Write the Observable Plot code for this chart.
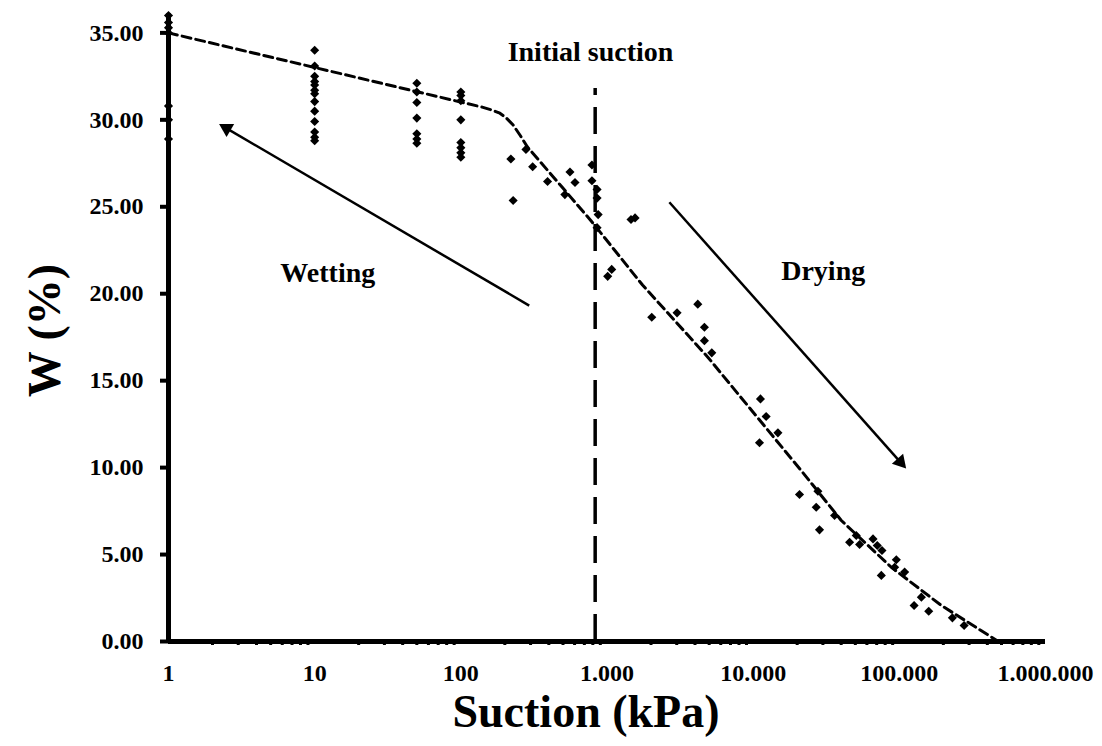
<!DOCTYPE html>
<html><head><meta charset="utf-8">
<script src="https://cdn.jsdelivr.net/npm/d3@7"></script>
<script src="https://cdn.jsdelivr.net/npm/@observablehq/plot@0.6"></script>
<style>body{margin:0;background:#fff;}</style>
</head><body><div id="chart"></div>
<script>
// Measured points: suction (kPa) and water content W (%)
const suctionAt1 = [1, 1, 1, 1, 1, 1, 1];
const wAt1 = [36.0, 35.6, 35.3, 35.0, 30.8, 30.0, 28.9];
const suctionAt10 = [10, 10, 10, 10, 10, 10, 10, 10, 10, 10, 10, 10, 10];
const wAt10 = [34.0, 33.1, 32.5, 32.2, 32.0, 31.7, 31.5, 31.05, 30.5, 29.9, 29.3, 29.0, 28.8];
const suctionAt50 = [50, 50, 50, 50, 50, 50, 50];
const wAt50 = [32.1, 31.6, 31.0, 30.1, 29.2, 28.9, 28.65];
const suctionAt100 = [100, 100, 100, 100, 100, 100, 100, 100];
const wAt100 = [31.6, 31.4, 31.1, 30.0, 28.7, 28.4, 28.1, 27.85];
const suctionScatter = [220, 279, 310, 392, 515, 558, 604, 228,
  789, 789, 855, 855, 870, 855, 1460, 1556, 1011, 1077,
  2024, 3015, 4180, 4640, 4640, 5210, 11220, 12270, 14770, 11050,
  20750, 27730, 27000, 36060, 28440, 50720, 45680, 53470, 66070, 70630, 76080,
  95370, 92900, 108700, 75300, 141500, 126200, 158900, 230700, 277500];
const wScatter = [27.75, 28.3, 27.3, 26.45, 25.7, 27.0, 26.4, 25.36,
  27.4, 26.5, 26.0, 25.5, 24.55, 23.8, 24.27, 24.36, 21.0, 21.4,
  18.65, 18.9, 19.4, 18.07, 17.3, 16.6, 13.95, 12.94, 12.0, 11.43,
  8.45, 8.64, 7.72, 7.25, 6.42, 6.1, 5.71, 5.58, 5.9, 5.52, 5.23,
  4.7, 4.27, 3.99, 3.8, 2.55, 2.07, 1.74, 1.36, 0.92];

// Fitted curve (dashed)
const fitSuction = [1, 140, 165, 185, 205, 228, 255, 285, 777, 1750, 4895, 21310, 40090, 88100, 194000, 476000];
const fitW = [35, 30.73, 30.55, 30.38, 30.1, 29.7, 29.1, 28.45, 24.2, 20.5, 16.35, 9.83, 6.96, 4.27, 2.07, 0];

// Initial suction marker
const initialSuction = [830];
const initialSuctionTop = [31.8];

// Arrows
const arrowLabels = ["Wetting", "Drying"];
const arrowX1 = [293.7, 2671];
const arrowY1 = [19.32, 25.26];
const arrowX2 = [2.21, 111700];
const arrowY2 = [29.77, 9.93];

// Annotation labels
const noteLabels = ["Initial suction", "Wetting", "Drying"];
const noteX = [771, 12.3, 30150];
const noteY = [33.9, 21.2, 21.3];

// Axis ticks
const xTickValues = [1, 10, 100, 1000, 10000, 100000, 1000000];
const xTickLabels = ["1", "10", "100", "1.000", "10.000", "100.000", "1.000.000"];
const yTickValues = [0, 5, 10, 15, 20, 25, 30, 35];

const xTitle = "Suction (kPa)";
const yTitle = "W (%)";

const points = [];
function addPts(xs, ys) { xs.forEach((x, i) => points.push({s: x, w: ys[i]})); }
addPts(suctionAt1, wAt1);
addPts(suctionAt10, wAt10);
addPts(suctionAt50, wAt50);
addPts(suctionAt100, wAt100);
addPts(suctionScatter, wScatter);

const fit = fitSuction.map((s, i) => ({s, w: fitW[i]}));
const notes = noteLabels.map((t, i) => ({t, x: noteX[i], y: noteY[i]}));
const minorTicks = [];
for (let e = 0; e < 6; e++) for (let k = 2; k <= 9; k++) minorTicks.push(k * Math.pow(10, e));

// Layout
const W = 1102, H = 746, mL = 168, mR = 57, mT = 15, mB = 105;
const xDomain = [1, 1e6], yDomain = [0, 36];
const xs = Plot.scale({x: {type: "log", domain: xDomain, range: [mL, W - mR]}});
const ys = Plot.scale({y: {type: "linear", domain: yDomain, range: [H - mB, mT]}});

// Arrow shafts and filled heads (head placed behind the tip, rotated along the shaft)
const headBack = 9;
const arrows = arrowLabels.map((name, i) => {
  const px1 = xs.apply(arrowX1[i]), py1 = ys.apply(arrowY1[i]);
  const px2 = xs.apply(arrowX2[i]), py2 = ys.apply(arrowY2[i]);
  const ang = Math.atan2(py2 - py1, px2 - px1);
  const hx = px2 - headBack * Math.cos(ang), hy = py2 - headBack * Math.sin(ang);
  return {name, x1: arrowX1[i], y1: arrowY1[i], hx: xs.invert(hx), hy: ys.invert(hy), rot: ang * 180 / Math.PI + 90};
});

const serif = "'Liberation Serif', 'Times New Roman', serif";

const chart = Plot.plot({
  width: W, height: H,
  marginLeft: mL, marginRight: mR, marginTop: mT, marginBottom: mB,
  style: {fontFamily: serif, fontWeight: "bold", fontSize: "24px", color: "#000", background: "#fff"},
  x: {type: "log", domain: xDomain},
  y: {domain: yDomain},
  marks: [
    Plot.axisX({ticks: minorTicks, tickSize: 4, strokeWidth: 3, tickFormat: () => "", label: null}),
    Plot.axisX({ticks: xTickValues, tickSize: 0, tickPadding: 22, tickFormat: d => xTickLabels[xTickValues.indexOf(d)], label: null, fontSize: 24, fontWeight: "bold"}),
    Plot.axisY({ticks: yTickValues, tickSize: 8, tickPadding: 17, strokeWidth: 4, tickFormat: d => d.toFixed(2), label: null, fontSize: 24, fontWeight: "bold"}),
    Plot.ruleY([0], {strokeWidth: 5, stroke: "#000"}),
    Plot.ruleX([1], {y1: 0, y2: 36.1, strokeWidth: 5, stroke: "#000"}),
    Plot.ruleX(initialSuction, {x: d => d, y1: 0, y2: initialSuctionTop[0], stroke: "#000", strokeWidth: 3.5, strokeDasharray: "27,12"}),
    Plot.line(fit, {x: "s", y: "w", stroke: "#000", strokeWidth: 3, strokeDasharray: "9,5"}),
    Plot.dot(points, {x: "s", y: "w", symbol: "diamond2", r: 4.1, fill: "#000", stroke: "none"}),
    Plot.link(arrows, {x1: "x1", y1: "y1", x2: "hx", y2: "hy", stroke: "#000", strokeWidth: 2.5}),
    Plot.dot(arrows, {x: "hx", y: "hy", symbol: "triangle", r: 5.6, rotate: "rot", fill: "#000", stroke: "none"}),
    Plot.text(notes, {x: "x", y: "y", text: "t", fontSize: 28, fontWeight: "bold", fill: "#000"}),
    Plot.text([xTitle], {frameAnchor: "bottom", dx: -21, dy: 71, lineAnchor: "middle", textAnchor: "middle", fontSize: 46, fontWeight: "bold", fill: "#000"}),
    Plot.text([yTitle], {frameAnchor: "left", dx: -123, dy: 2, rotate: -90, lineAnchor: "middle", textAnchor: "middle", fontSize: 46, fontWeight: "bold", fill: "#000"})
  ]
});
document.getElementById("chart").appendChild(chart);
</script>
</body></html>
